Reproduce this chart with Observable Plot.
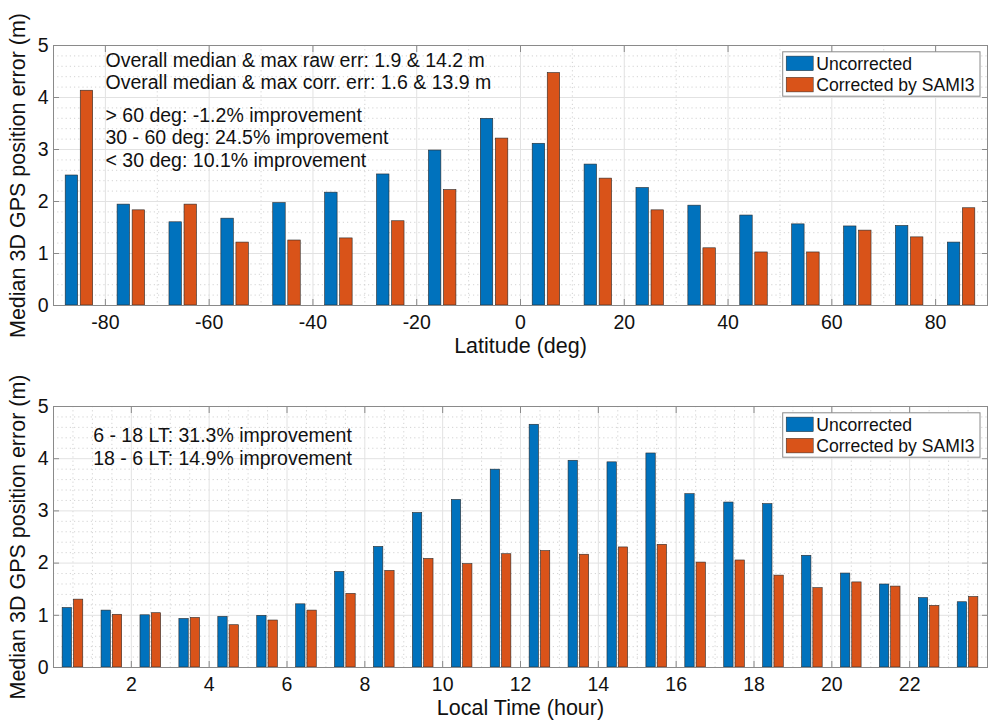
<!DOCTYPE html>
<html>
<head>
<meta charset="utf-8">
<script src="https://cdn.jsdelivr.net/npm/d3@7"></script>
<script src="https://cdn.jsdelivr.net/npm/@observablehq/plot@0.6"></script>
<style>
  body { margin: 0; background: #fff; }
  #chart { width: 990px; height: 720px; font-family: "Liberation Sans", Arial, Helvetica, sans-serif; }
  #chart svg { display: block; }
</style>
</head>
<body>
<div id="chart"></div>
<script>
// ---------- Data ----------
const latCenters = [-85, -75, -65, -55, -45, -35, -25, -15, -5, 5, 15, 25, 35, 45, 55, 65, 75, 85];
const latUncorrected = [2.50, 1.94, 1.60, 1.67, 1.97, 2.17, 2.52, 2.98, 3.59, 3.11, 2.71, 2.26, 1.92, 1.73, 1.56, 1.52, 1.53, 1.21];
const latCorrected   = [4.13, 1.83, 1.94, 1.21, 1.25, 1.29, 1.62, 2.22, 3.21, 4.47, 2.44, 1.83, 1.10, 1.02, 1.02, 1.44, 1.31, 1.87];
const latTicks = [-80, -60, -40, -20, 0, 20, 40, 60, 80];

const ltCenters = [0.5, 1.5, 2.5, 3.5, 4.5, 5.5, 6.5, 7.5, 8.5, 9.5, 10.5, 11.5, 12.5, 13.5, 14.5, 15.5, 16.5, 17.5, 18.5, 19.5, 20.5, 21.5, 22.5, 23.5];
const ltUncorrected = [1.14, 1.09, 1.00, 0.93, 0.97, 0.99, 1.21, 1.83, 2.31, 2.96, 3.21, 3.79, 4.65, 3.96, 3.93, 4.10, 3.32, 3.16, 3.13, 2.14, 1.80, 1.59, 1.33, 1.25];
const ltCorrected   = [1.30, 1.01, 1.04, 0.95, 0.81, 0.90, 1.09, 1.41, 1.85, 2.08, 1.98, 2.17, 2.23, 2.16, 2.30, 2.35, 2.01, 2.05, 1.76, 1.52, 1.63, 1.55, 1.18, 1.35];
const ltTicks = [2, 4, 6, 8, 10, 12, 14, 16, 18, 20, 22];

const yTicks = [0, 1, 2, 3, 4, 5];
const seriesNames = ["Uncorrected", "Corrected by SAMI3"];
const seriesColors = ["#0072BD", "#D95319"];

const topNotes = [
  "Overall median & max raw err: 1.9 & 14.2 m",
  "Overall median & max corr. err: 1.6 & 13.9 m",
  "> 60 deg: -1.2% improvement",
  "30 - 60 deg: 24.5% improvement",
  "< 30 deg: 10.1% improvement"
];
const bottomNotes = [
  "6 - 18 LT: 31.3% improvement",
  "18 - 6 LT: 14.9% improvement"
];
const yLabel = "Median 3D GPS position error (m)";

// ---------- Drawing ----------
const W = 990, ML = 53, MR = 3;
const TICK_FONT = 19.5, LABEL_FONT = 21.5, LEGEND_FONT = 17.6;
const FRAME = "#8a8a8a";
const FONT = '"Liberation Sans", Arial, Helvetica, sans-serif';
const fmt = d => String(d);

function panel({centers, a, b, spacing, domain, ticks, minorStep, xLabel, notes, noteDx, noteDys, height, marginTop, marginBottom}) {
  const rows = [];
  centers.forEach((c, i) => {
    rows.push({c, v: a[i], s: 0});
    rows.push({c, v: b[i], s: 1});
  });
  const x1 = d => d.s === 0 ? d.c - 0.265 * spacing : d.c + 0.025 * spacing;
  const x2 = d => d.s === 0 ? d.c - 0.025 * spacing : d.c + 0.265 * spacing;
  const minorX = d3.range(domain[0], domain[1] + 1e-9, minorStep).filter(v => !ticks.some(t => Math.abs(t - v) < 1e-9));
  const minorY = d3.range(0, 5.0001, 0.2).filter(v => Math.abs(v - Math.round(v)) > 1e-6);

  const svg = Plot.plot({
    width: W, height,
    marginLeft: ML, marginRight: MR, marginTop, marginBottom,
    style: {fontFamily: FONT, background: "#fff", color: "#111"},
    x: {domain, label: null},
    y: {domain: [0, 5], label: null},
    marks: [
      Plot.ruleX(minorX, {x: d => d, stroke: "#c8c8c8", strokeWidth: 0.8, strokeDasharray: "1.2,3"}),
      Plot.ruleY(minorY, {y: d => d, stroke: "#c8c8c8", strokeWidth: 0.8, strokeDasharray: "1.2,3"}),
      Plot.ruleX(ticks, {x: d => d, stroke: "#e2e2e2", strokeWidth: 1}),
      Plot.ruleY(yTicks, {y: d => d, stroke: "#e2e2e2", strokeWidth: 1}),
      Plot.rectY(rows, {x1, x2, y1: 0, y2: "v", fill: d => seriesColors[d.s], stroke: "#2a2a2a", strokeWidth: 0.6}),
      Plot.frame({stroke: FRAME, strokeWidth: 1}),
      Plot.axisX(ticks, {anchor: "bottom", tickSize: -6, tickPadding: 16, tickFormat: fmt, fontSize: TICK_FONT, stroke: FRAME, fill: "#111", label: null}),
      Plot.axisX(ticks, {anchor: "top", tickSize: -6, tickFormat: () => "", stroke: FRAME, label: null}),
      Plot.axisY(yTicks, {anchor: "left", tickSize: -6, tickPadding: 11, tickFormat: fmt, fontSize: TICK_FONT, stroke: FRAME, fill: "#111", label: null}),
      Plot.axisY(yTicks, {anchor: "right", tickSize: -6, tickFormat: () => "", stroke: FRAME, label: null}),
      Plot.text([xLabel], {text: d => d, frameAnchor: "bottom", dy: 40.5, lineAnchor: "middle", fontSize: LABEL_FONT, fill: "#111"}),
      Plot.text([yLabel], {text: d => d, frameAnchor: "left", dx: -35, rotate: -90, textAnchor: "middle", lineAnchor: "middle", fontSize: LABEL_FONT, fill: "#111"}),
      ...notes.map((t, i) => Plot.text([t], {text: d => d, frameAnchor: "top-left", dx: noteDx, dy: noteDys[i], textAnchor: "start", lineAnchor: "middle", fontSize: TICK_FONT, fill: "#111"}))
    ]
  });

  // Legend box (top-right, inside frame)
  const s = d3.select(svg);
  const right = W - MR;
  const bx = right - 204.3, by = marginTop + 6.8, bw = 197.3, bh = 44.4;
  const g = s.append("g").attr("font-family", FONT).attr("text-anchor", "start");
  g.append("rect").attr("x", bx).attr("y", by).attr("width", bw).attr("height", bh)
    .attr("fill", "#fff").attr("stroke", FRAME).attr("stroke-width", 1);
  seriesNames.forEach((name, i) => {
    const cy = by + 11.6 + i * 21.2;
    g.append("rect").attr("x", bx + 3.5).attr("y", cy - 7.3).attr("width", 27).attr("height", 14.6)
      .attr("fill", seriesColors[i]).attr("stroke", "#2a2a2a").attr("stroke-width", 0.5);
    g.append("text").attr("x", bx + 33.5).attr("y", cy).attr("dy", "0.35em").attr("text-anchor", "start")
      .attr("font-size", LEGEND_FONT).attr("fill", "#111").text(name);
  });
  return svg;
}

const chart = document.getElementById("chart");
chart.appendChild(panel({
  centers: latCenters, a: latUncorrected, b: latCorrected, spacing: 10,
  domain: [-90, 90], ticks: latTicks, minorStep: 10,
  xLabel: "Latitude (deg)", notes: topNotes, noteDx: 52, noteDys: [15, 37.3, 70, 92.3, 114.8],
  height: 360, marginTop: 45, marginBottom: 55
}));
chart.appendChild(panel({
  centers: ltCenters, a: ltUncorrected, b: ltCorrected, spacing: 1,
  domain: [0, 24], ticks: ltTicks, minorStep: 0.5,
  xLabel: "Local Time (hour)", notes: bottomNotes, noteDx: 39.7, noteDys: [29, 52.3],
  height: 360, marginTop: 46, marginBottom: 53
}));
</script>
</body>
</html>
